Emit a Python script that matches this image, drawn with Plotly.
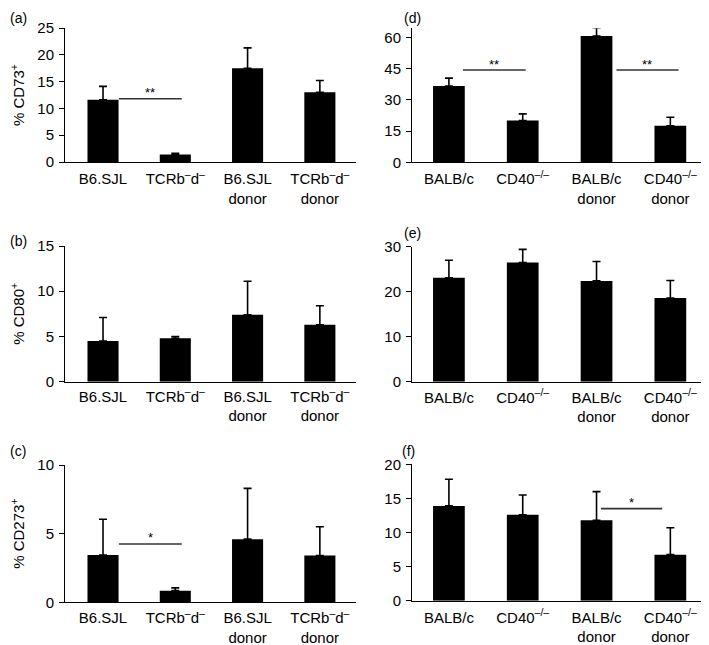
import plotly.graph_objects as go

# ---------------- data ----------------
left_categories = ["B6.SJL", "TCRb<sup>–</sup>d<sup>–</sup>", "B6.SJL<br>donor", "TCRb<sup>–</sup>d<sup>–</sup><br>donor"]
right_categories = ["BALB/c", "CD40<sup>–/–</sup>", "BALB/c<br>donor", "CD40<sup>–/–</sup><br>donor"]

cd73_mean = [11.6, 1.4, 17.5, 13.0]
cd73_err = [2.5, 0.2, 3.8, 2.2]
cd80_mean = [4.5, 4.8, 7.4, 6.3]
cd80_err = [2.6, 0.2, 3.7, 2.1]
cd273_mean = [3.45, 0.85, 4.6, 3.4]
cd273_err = [2.6, 0.2, 3.7, 2.1]

d_mean = [36.7, 20.1, 60.8, 17.6]
d_err = [3.8, 3.2, 4.0, 4.1]
e_mean = [23.1, 26.5, 22.4, 18.6]
e_err = [3.9, 2.9, 4.3, 3.9]
f_mean = [13.9, 12.6, 11.8, 6.75]
f_err = [3.9, 2.9, 4.2, 3.95]

# significance brackets: (x start, x end, y level, label)
sig_a = [(0.22, 1.09, 11.8, "**")]
sig_b = []
sig_c = [(0.22, 1.09, 4.25, "*")]
sig_d = [(0.19, 1.04, 44.4, "**"), (2.27, 3.11, 44.4, "**")]
sig_e = []
sig_f = [(2.06, 2.89, 13.5, "*")]

y_titles = ["% CD73<sup>+</sup>", "% CD80<sup>+</sup>", "% CD273<sup>+</sup>", "", "", ""]
panel_labels = ["(a)", "(b)", "(c)", "(d)", "(e)", "(f)"]
y_ticks = [[0, 5, 10, 15, 20, 25], [0, 5, 10, 15], [0, 5, 10],
           [0, 15, 30, 45, 60], [0, 10, 20, 30], [0, 5, 10, 15, 20]]
y_ranges = [[0, 25], [0, 15], [0, 10], [0, 64.5], [0, 30], [0, 20]]

# ---------------- layout geometry (window pixels; page body has an 8px margin) ----------------
OFF = 8
W, H = 709 - OFF, 645 - OFF
FONT = "Liberation Sans, Arial, Helvetica, sans-serif"

def px_x(a, b):
    return [(a - OFF) / W, (b - OFF) / W]

def px_y(top, bottom):
    return [1 - (bottom - OFF) / H, 1 - (top - OFF) / H]

x_domains = [px_x(65, 356)] * 3 + [px_x(412, 708)] * 3
x_ranges = [[-0.526, 3.5]] * 3 + [[-0.50, 3.51]] * 3
y_domains = [px_y(28, 162), px_y(246, 381.7), px_y(465, 602.3),
             px_y(28.3, 162.3), px_y(246.7, 381.7), px_y(464.3, 600.7)]
# (x, y, x-anchor, y-anchor) of panel letters in window pixels
label_pos = [(8, 8, "left", "top"), (8, 241, "left", "middle"), (8, 451, "left", "middle"),
             (412, 8, "center", "top"), (412, 233, "center", "middle"), (409, 451, "center", "middle")]
x_standoff = [3, 1, 2, 3, 2, 3]

means = [cd73_mean, cd80_mean, cd273_mean, d_mean, e_mean, f_mean]
errs = [cd73_err, cd80_err, cd273_err, d_err, e_err, f_err]
sigs = [sig_a, sig_b, sig_c, sig_d, sig_e, sig_f]
cats = [left_categories] * 3 + [right_categories] * 3

fig = go.Figure()
layout = dict(width=W, height=H, margin=dict(l=0, r=0, t=0, b=0),
              paper_bgcolor="white", plot_bgcolor="white",
              showlegend=False, font=dict(family=FONT, size=15, color="black"),
              annotations=[])

for i in range(6):
    n = "" if i == 0 else str(i + 1)
    xa, ya = "x" + n, "y" + n
    xpos = list(range(len(cats[i])))
    fig.add_trace(go.Bar(
        x=xpos, y=means[i], width=0.43, marker=dict(color="black", line=dict(width=0)),
        error_y=dict(type="data", array=errs[i], arrayminus=[0] * 4, symmetric=False,
                     color="black", thickness=1.6, width=4),
        xaxis=xa, yaxis=ya, hoverinfo="skip"))
    for (x0, x1, yv, lab) in sigs[i]:
        fig.add_trace(go.Scatter(x=[x0, x1], y=[yv, yv], mode="lines",
                                 line=dict(color="#333333", width=1.6),
                                 xaxis=xa, yaxis=ya, hoverinfo="skip"))
        layout["annotations"].append(dict(
            x=(x0 + x1) / 2, y=yv, xref=xa, yref=ya, text=lab, showarrow=False,
            yshift=6, font=dict(size=13, family=FONT, color="black")))
    layout["xaxis" + n] = dict(
        domain=x_domains[i], range=x_ranges[i], anchor=ya,
        tickmode="array", tickvals=xpos, ticktext=cats[i],
        showline=True, linecolor="black", linewidth=1, ticks="", ticklen=0,
        showgrid=False, zeroline=False, ticklabelstandoff=x_standoff[i],
        tickfont=dict(size=15, family=FONT), automargin=False, fixedrange=True)
    layout["yaxis" + n] = dict(
        domain=y_domains[i], range=y_ranges[i], anchor=xa,
        tickmode="array", tickvals=y_ticks[i],
        showline=True, linecolor="black", linewidth=1,
        ticks="outside", ticklen=5, tickcolor="black", tickwidth=1,
        showgrid=False, zeroline=False, ticklabelstandoff=2,
        tickfont=dict(size=15, family=FONT), automargin=False, fixedrange=True,
        title=dict(text=y_titles[i], font=dict(size=15, family=FONT), standoff=17))
    lx, ly, xanc, yanc = label_pos[i]
    layout["annotations"].append(dict(
        x=(lx - OFF) / W, y=1 - (ly - OFF) / H, xref="paper", yref="paper",
        text=panel_labels[i], showarrow=False, xanchor=xanc, yanchor=yanc,
        font=dict(size=14, family=FONT, color="black")))

fig.update_layout(**layout)
fig.write_html("out.html")
